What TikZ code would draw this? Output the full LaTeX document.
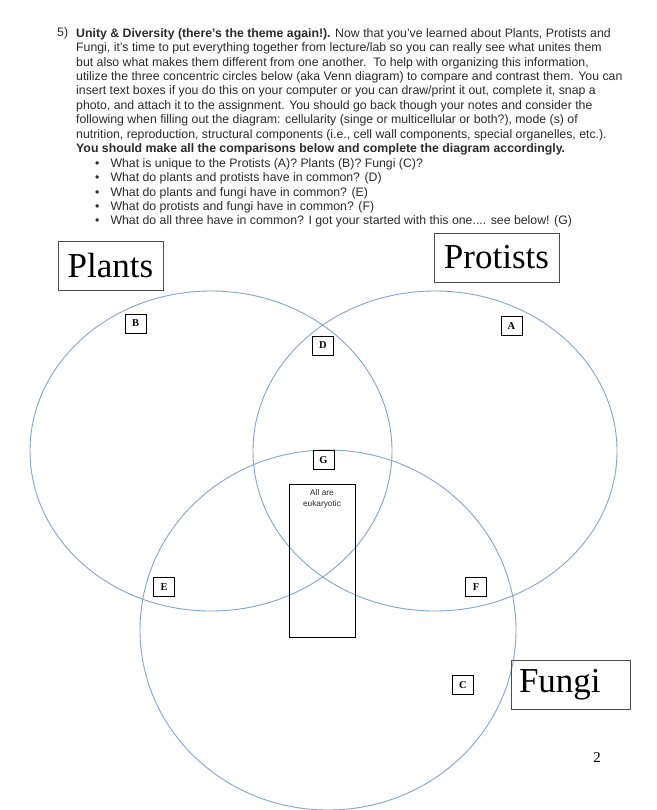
\documentclass[tikz,border=0pt]{standalone}
\usepackage{fontspec}
\setmainfont{Liberation Serif}
\newfontfamily\arialfont{Liberation Sans}
\usepackage{xcolor}
\usetikzlibrary{positioning}
\definecolor{VennBlue}{HTML}{86A4C8}
\definecolor{TextGray}{HTML}{2B2B2B}

\begin{document}
\begin{tikzpicture}[x=1pt, y=-1pt,
  venn/.style={VennBlue, line width=0.9pt},
  kingdom/.style={draw=black!70, line width=0.7pt, font=\fontsize{35}{40}\selectfont,
    inner sep=0pt, minimum height=49pt},
  letterbox/.style={draw, line width=0.6pt, font=\fontsize{10.5}{12}\selectfont\bfseries,
    minimum width=21pt, minimum height=19pt, inner sep=0pt},
  body/.style={font=\arialfont\fontsize{12.3}{14.45}\selectfont, text=TextGray,
    align=left, inner sep=0pt, anchor=north west}
]
  % page
  \fill[white] (0,0) rectangle (656,810);
  \useasboundingbox (0,0) rectangle (656,810);

  % instructions
  \node[body, anchor=base west] (num) at (57,37) {5)};
  \node[body] (task) at (76,28) {%
    \textbf{Unity \& Diversity (there’s the theme again!).} Now that you’ve learned about Plants, Protists and\\
    Fungi, it’s time to put everything together from lecture/lab so you can really see what unites them\\
    but also what makes them different from one another.\ \ To help with organizing this information,\\
    utilize the three concentric circles below (aka Venn diagram) to compare and contrast them. You can\\
    insert text boxes if you do this on your computer or you can draw/print it out, complete it, snap a\\
    photo, and attach it to the assignment. You should go back though your notes and consider the\\
    following when filling out the diagram: cellularity (singe or multicellular or both?), mode (s) of\\
    nutrition, reproduction, structural components (i.e., cell wall components, special organelles, etc.).\\
    \textbf{You should make all the comparisons below and complete the diagram accordingly.}};
  \node[body] (questions) at (95,158) {%
    \textbullet\hspace{11pt}What is unique to the Protists (A)? Plants (B)? Fungi (C)?\\
    \textbullet\hspace{11pt}What do plants and protists have in common? (D)\\
    \textbullet\hspace{11pt}What do plants and fungi have in common? (E)\\
    \textbullet\hspace{11pt}What do protists and fungi have in common? (F)\\
    \textbullet\hspace{11pt}What do all three have in common? I got your started with this one.... see below! (G)};

  % Venn circles
  \draw[venn] (211,451) ellipse [x radius=181pt, y radius=160pt]; % plants
  \draw[venn] (435,451) ellipse [x radius=182pt, y radius=160pt]; % protists
  \draw[venn] (328,630) ellipse [x radius=188pt, y radius=180pt]; % fungi

  % kingdom labels
  \node[kingdom, minimum width=105pt] (plants) at (110.5,266) {Plants};
  \node[kingdom, minimum width=125pt] (protists) at (496.5,257.5) {Protists};
  \node[kingdom, text width=103pt, align=left, inner xsep=8pt] (fungi) at (570.5,685) {Fungi};

  % region letters
  \node[letterbox] (B) at (135.5,323.5) {B};
  \node[letterbox] (A) at (511.5,326) {A};
  \node[letterbox] (D) at (323,345.5) {D};
  \node[letterbox] (G) at (323.5,460) {G};
  \node[letterbox] (E) at (164,587) {E};
  \node[letterbox] (F) at (476,587) {F};
  \node[letterbox] (C) at (463,685) {C};

  % shared by all
  \node[draw, line width=0.6pt, minimum width=66pt, minimum height=153pt, inner sep=0pt] (allthree) at (322,560.5) {};
  \node[font=\arialfont\fontsize{8.3}{11}\selectfont, text=TextGray, align=center, below=2pt of allthree.north] (eukaryotic) {All are\\eukaryotic};

  % page number
  \node[font=\fontsize{15}{17}\selectfont] (page) at (597,758) {2};
\end{tikzpicture}
\end{document}
